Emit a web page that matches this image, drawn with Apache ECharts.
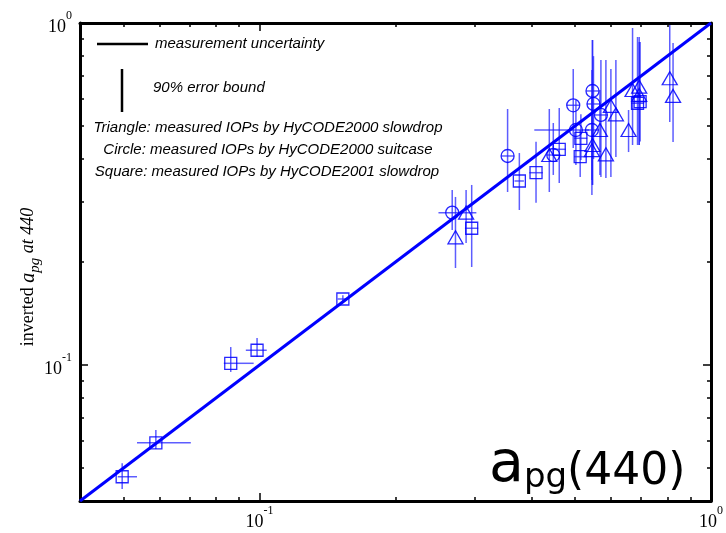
<!DOCTYPE html>
<html>
<head>
<meta charset="utf-8">
<script src="https://cdn.jsdelivr.net/npm/echarts@6/dist/echarts.min.js"></script>
<style>
html,body{margin:0;padding:0;background:#fff;}
#chart{width:726px;height:533px;}
</style>
</head>
<body>
<div id="chart"></div>
<script>
// ---- axis ticks ----
const majorTicks = [0.1, 1];
const minorTicks = [0.05, 0.06, 0.07, 0.08, 0.09, 0.2, 0.3, 0.4, 0.5, 0.6, 0.7, 0.8, 0.9];
const tickLabels = ['10^-1', '10^0'];

// ---- 1:1 line ----
const lineX = [0.04, 1];
const lineY = [0.04, 1];

// ---- Triangle: HyCODE2000 slowdrop ----
const triX   = [0.2867, 0.2716, 0.4383, 0.5463, 0.5447, 0.5850, 0.5674, 0.6001, 0.6156, 0.6567, 0.6702, 0.6934, 0.6934, 0.8102, 0.8240];
const triY   = [0.2788, 0.2362, 0.4111, 0.4397, 0.4251, 0.4131, 0.4865, 0.5719, 0.5408, 0.4865, 0.6369, 0.6512, 0.6160, 0.6894, 0.6118];
const triYLo = [0.2273, 0.1921, 0.3205, 0.3360, 0.3142, 0.3522, 0.3594, 0.3546, 0.4056, 0.4194, 0.4397, 0.4397, 0.4400, 0.5134, 0.4487];
const triYHi = [0.3249, 0.3099, 0.5604, 0.8920, 0.7290, 0.7796, 0.6369, 0.7337, 0.7796, 0.5566, 0.9670, 0.9100, 0.8800, 0.9870, 0.8740];

// ---- Circle: HyCODE2000 suitcase ----
const circX   = [0.2671, 0.3543, 0.4473, 0.4952, 0.5020, 0.5463, 0.5491, 0.5703, 0.5447];
const circY   = [0.2788, 0.4084, 0.4111, 0.5746, 0.4865, 0.6327, 0.5797, 0.5383, 0.4865];
const circXLo = [0.2490, 0.3430, 0.4330, 0.4790, 0.4060, 0.5290, 0.5310, 0.5520, 0.5270];
const circXHi = [0.3021, 0.3660, 0.4620, 0.5120, 0.5372, 0.5640, 0.5670, 0.5890, 0.5630];
const circYLo = [0.2481, 0.3205, 0.3594, 0.4309, 0.3844, 0.3360, 0.4000, 0.3546, 0.3475];
const circYHi = [0.3249, 0.5604, 0.5100, 0.7337, 0.5954, 0.8920, 0.8000, 0.7796, 0.6160];

// ---- Square: HyCODE2001 slowdrop ----
const sqX   = [0.0496, 0.0589, 0.0863, 0.0987, 0.1529, 0.2950, 0.3762, 0.4096, 0.4611, 0.5149, 0.5131, 0.6874, 0.6966];
const sqY   = [0.0471, 0.0592, 0.1011, 0.1104, 0.1559, 0.2510, 0.3451, 0.3649, 0.4272, 0.4601, 0.4065, 0.5825, 0.5888];
const sqXLo = [0.0485, 0.0535, 0.0833, 0.0932, 0.1489, 0.2850, 0.3670, 0.3960, 0.4460, 0.4980, 0.4977, 0.6650, 0.6740];
const sqXHi = [0.0535, 0.0704, 0.0970, 0.1037, 0.1566, 0.3050, 0.3850, 0.4240, 0.4770, 0.5320, 0.5318, 0.7110, 0.7200];
const sqYLo = [0.0434, 0.0568, 0.0954, 0.1055, 0.1518, 0.1934, 0.2839, 0.2983, 0.3405, 0.3975, 0.3546, 0.4397, 0.4500];
const sqYHi = [0.0516, 0.0645, 0.1128, 0.1199, 0.1600, 0.3360, 0.4166, 0.4496, 0.5642, 0.5408, 0.4865, 0.9100, 0.8800];

// ---- build ----
const BLUE = '#0000ff';
const BAR = 'rgba(30,30,255,0.72)';
function pts(xs, ys) { return xs.map((x, i) => [x, ys[i]]); }
function bars(xs, ys, xlo, xhi, ylo, yhi) {
  return xs.map((x, i) => [x, ys[i], xlo ? xlo[i] : x, xhi ? xhi[i] : x, ylo[i], yhi[i]]);
}
const allBars = []
  .concat(bars(triX, triY, null, null, triYLo, triYHi))
  .concat(bars(circX, circY, circXLo, circXHi, circYLo, circYHi))
  .concat(bars(sqX, sqY, sqXLo, sqXHi, sqYLo, sqYHi));

function supLabel(v) {
  const idx = majorTicks.findIndex(m => Math.abs(m - v) < 1e-9);
  if (idx < 0) return '';
  const parts = tickLabels[idx].split('^');
  return '{b|' + parts[0] + '}{s|' + parts[1] + '}';
}
const labelRich = {
  b: { fontSize: 18, fontFamily: 'Liberation Serif', color: '#000', lineHeight: 26, verticalAlign: 'bottom' },
  s: { fontSize: 12, fontFamily: 'Liberation Serif', color: '#000', lineHeight: 12, verticalAlign: 'top' }
};
function mkAxis(kind, pos, ticks, len, labels, line) {
  return {
    type: 'log', logBase: 10, min: 0.04, max: 1, position: pos,
    axisLine: { show: line, onZero: false, lineStyle: { color: '#000', width: 3 } },
    axisTick: { show: true, inside: true, length: len, customValues: ticks, lineStyle: { color: '#000', width: 1.5 } },
    axisLabel: labels ? {
      show: true, customValues: majorTicks, formatter: supLabel, rich: labelRich,
      margin: kind === 'x' ? 4 : 8
    } : { show: false },
    splitLine: { show: false },
    minorTick: { show: false }
  };
}

const xAxes = [
  mkAxis('x', 'bottom', minorTicks, 4, true, true),
  mkAxis('x', 'bottom', majorTicks, 8, false, false),
  mkAxis('x', 'top', minorTicks, 4, false, true),
  mkAxis('x', 'top', majorTicks, 8, false, false)
];
const yAxes = [
  mkAxis('y', 'left', minorTicks, 4, true, true),
  mkAxis('y', 'left', majorTicks, 8, false, false),
  mkAxis('y', 'right', minorTicks, 4, false, true),
  mkAxis('y', 'right', majorTicks, 8, false, false)
];

const markerStyle = { color: 'rgba(0,0,0,0)', borderColor: BLUE, borderWidth: 1.3, opacity: 0.85 };

const legendFont = { fontFamily: 'Liberation Sans', fontStyle: 'italic', fontSize: 15, fill: '#000' };

const option = {
  animation: false,
  backgroundColor: '#fff',
  grid: { left: 80, right: 14, top: 23, bottom: 32, containLabel: false },
  xAxis: xAxes,
  yAxis: yAxes,
  series: [
    {
      type: 'line', data: pts(lineX, lineY), showSymbol: false, symbol: 'none',
      lineStyle: { color: BLUE, width: 3 }, z: 3
    },
    {
      type: 'custom', data: allBars, z: 2,
      renderItem: function (params, api) {
        const xl = api.coord([api.value(2), api.value(1)]);
        const xh = api.coord([api.value(3), api.value(1)]);
        const yl = api.coord([api.value(0), api.value(4)]);
        const yh = api.coord([api.value(0), api.value(5)]);
        const st = { stroke: BAR, lineWidth: 1.5 };
        const children = [
          { type: 'line', shape: { x1: yl[0], y1: yl[1], x2: yh[0], y2: yh[1] }, style: st }
        ];
        if (Math.abs(xh[0] - xl[0]) > 0.5) {
          children.push({ type: 'line', shape: { x1: xl[0], y1: xl[1], x2: xh[0], y2: xh[1] }, style: st });
        }
        return { type: 'group', children: children };
      }
    },
    {
      type: 'scatter', data: pts(triX, triY), symbol: 'triangle', symbolSize: [15, 13],
      itemStyle: markerStyle, z: 4
    },
    {
      type: 'scatter', data: pts(circX, circY), symbol: 'circle', symbolSize: 13,
      itemStyle: markerStyle, z: 4
    },
    {
      type: 'scatter', data: pts(sqX, sqY), symbol: 'rect', symbolSize: 12,
      itemStyle: markerStyle, z: 4
    }
  ],
  graphic: [
    {
      type: 'text', x: 31, y: 277, rotation: Math.PI / 2,
      style: {
        text: '{n|inverted }{i|a}{sub|pg}{i2| at 440}', align: 'center', verticalAlign: 'middle',
        rich: {
          n: { fontSize: 18, fontFamily: 'Liberation Serif', fill: '#000', lineHeight: 24, verticalAlign: 'top' },
          i: { fontSize: 20, fontFamily: 'Liberation Serif', fontStyle: 'italic', fill: '#000', lineHeight: 24, verticalAlign: 'top' },
          sub: { fontSize: 15, fontFamily: 'Liberation Serif', fontStyle: 'italic', fill: '#000', lineHeight: 15, verticalAlign: 'bottom' },
          i2: { fontSize: 18, fontFamily: 'Liberation Serif', fontStyle: 'italic', fill: '#000', lineHeight: 24, verticalAlign: 'top' }
        }
      }
    },
    { type: 'line', shape: { x1: 97, y1: 44, x2: 148, y2: 44 }, style: { stroke: '#000', lineWidth: 2.5 } },
    { type: 'text', x: 155, y: 44, style: Object.assign({ text: 'measurement uncertainty', verticalAlign: 'middle', align: 'left' }, legendFont) },
    { type: 'line', shape: { x1: 122, y1: 69, x2: 122, y2: 112 }, style: { stroke: '#000', lineWidth: 2.5 } },
    { type: 'text', x: 153, y: 88, style: Object.assign({ text: '90% error bound', verticalAlign: 'middle', align: 'left' }, legendFont) },
    { type: 'text', x: 268, y: 128, style: Object.assign({ text: 'Triangle: measured IOPs by HyCODE2000 slowdrop', verticalAlign: 'middle', align: 'center' }, legendFont) },
    { type: 'text', x: 268, y: 150, style: Object.assign({ text: 'Circle: measured IOPs by HyCODE2000 suitcase', verticalAlign: 'middle', align: 'center' }, legendFont) },
    { type: 'text', x: 267, y: 172, style: Object.assign({ text: 'Square: measured IOPs by HyCODE2001 slowdrop', verticalAlign: 'middle', align: 'center' }, legendFont) },
    {
      type: 'text', x: 489, y: 495, z: 10,
      style: {
        text: '{a|a}{p|pg}{d|(440)}', align: 'left', verticalAlign: 'bottom',
        rich: {
          a: { fontSize: 57, fontFamily: 'DejaVu Sans', fill: '#000', lineHeight: 57, verticalAlign: 'bottom' },
          p: { fontSize: 34, fontFamily: 'DejaVu Sans', fill: '#000', lineHeight: 22, verticalAlign: 'bottom' },
          d: { fontSize: 44, fontFamily: 'DejaVu Sans', fill: '#000', lineHeight: 44, verticalAlign: 'bottom' }
        }
      }
    }
  ]
};

const chart = echarts.init(document.getElementById('chart'), null, { renderer: 'canvas' });
chart.setOption(option);
</script>
</body>
</html>
